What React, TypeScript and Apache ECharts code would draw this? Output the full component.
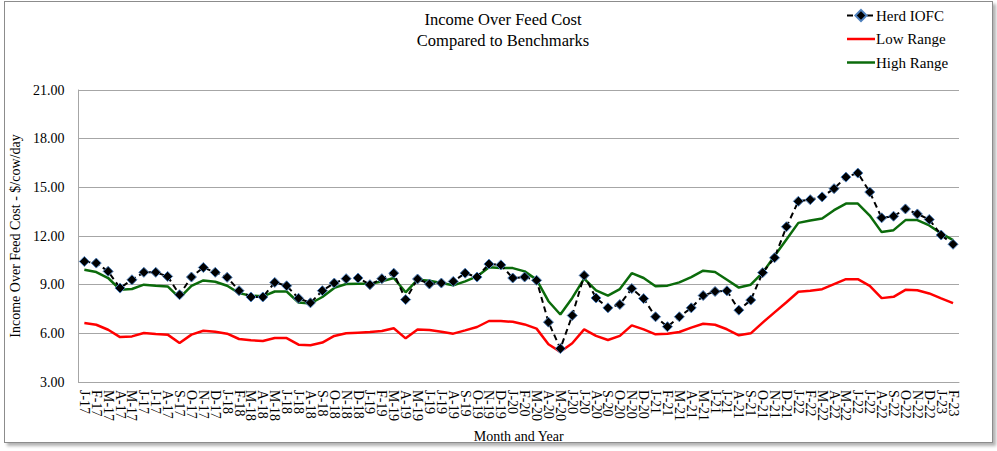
import { useEffect, useRef } from "react";
import * as echarts from "echarts";

const monthInitials = ["J", "F", "M", "A", "M", "J", "J", "A", "S", "O", "N", "D"];
const years = ["17", "18", "19", "20", "21", "22", "23"];
const monthCount = 74;

const categories: string[] = [];
for (let i = 0; i < monthCount; i++) {
  categories.push(monthInitials[i % 12] + "-" + years[Math.floor(i / 12)]);
}

const herdIOFC = [
  10.43, 10.33, 9.82, 8.79, 9.3, 9.76, 9.76, 9.51, 8.38, 9.47, 10.06, 9.76,
  9.45, 8.63, 8.24, 8.24, 9.14, 8.93, 8.16, 7.88, 8.63, 9.1, 9.37, 9.41,
  9.0, 9.37, 9.71, 8.08, 9.35, 9.04, 9.1, 9.2, 9.71, 9.47, 10.27, 10.22,
  9.41, 9.47, 9.27, 6.69, 5.06, 7.1, 9.57, 8.18, 7.57, 7.78, 8.76, 8.14,
  7.02, 6.41, 7.02, 7.57, 8.33, 8.58, 8.62, 7.43, 8.05, 9.74, 10.66, 12.57,
  14.14, 14.24, 14.41, 14.92, 15.63, 15.88, 14.71, 13.12, 13.22, 13.67, 13.36, 13.02,
  12.06, 11.49,
];

const lowRange = [
  6.63, 6.53, 6.22, 5.77, 5.81, 6.02, 5.96, 5.92, 5.4, 5.92, 6.16, 6.1,
  5.98, 5.65, 5.57, 5.53, 5.71, 5.71, 5.3, 5.27, 5.43, 5.84, 6.0, 6.04,
  6.08, 6.14, 6.31, 5.69, 6.24, 6.2, 6.1, 5.98, 6.18, 6.39, 6.76, 6.76,
  6.71, 6.55, 6.29, 5.33, 4.86, 5.39, 6.24, 5.84, 5.59, 5.84, 6.49, 6.24,
  5.94, 5.98, 6.08, 6.35, 6.59, 6.53, 6.25, 5.88, 6.0, 6.66, 7.29, 7.92,
  8.56, 8.62, 8.72, 9.03, 9.34, 9.34, 8.93, 8.17, 8.25, 8.68, 8.66, 8.46,
  8.15, 7.86,
];

const highRange = [
  9.92, 9.78, 9.41, 8.69, 8.73, 9.0, 8.93, 8.89, 8.18, 8.93, 9.26, 9.18,
  8.93, 8.48, 8.32, 8.28, 8.58, 8.58, 7.9, 7.84, 8.24, 8.8, 9.04, 9.06,
  9.06, 9.2, 9.41, 8.53, 9.31, 9.24, 9.1, 8.96, 9.2, 9.51, 10.08, 10.02,
  10.02, 9.82, 9.31, 7.98, 7.16, 8.18, 9.37, 8.65, 8.33, 8.73, 9.71, 9.41,
  8.9, 8.94, 9.14, 9.47, 9.86, 9.78, 9.3, 8.82, 9.0, 9.74, 10.77, 11.79,
  12.81, 12.96, 13.08, 13.59, 14.0, 14.0, 13.26, 12.24, 12.36, 12.98, 12.98, 12.65,
  12.16, 11.75,
];

const serif = "'Liberation Serif', 'Times New Roman', serif";
// plain line used as legend icon for the two range series
const lineIcon = "path://M0,0H28V2.5H0Z";

const App = () => {
  const chartRef = useRef<HTMLDivElement>(null);

  useEffect(() => {
    const chart = echarts.init(chartRef.current, undefined, { renderer: "svg" });
    chart.setOption({
      animation: false,
      textStyle: { fontFamily: serif, color: "#000" },
      title: {
        text: "Income Over Feed Cost\nCompared to Benchmarks",
        left: 498,
        textAlign: "center",
        top: 4,
        textStyle: {
          fontFamily: serif,
          fontSize: 16.5,
          fontWeight: "normal",
          color: "#000",
          lineHeight: 21,
        },
      },
      legend: {
        orient: "vertical",
        left: 841,
        top: 3,
        itemWidth: 28,
        itemHeight: 14,
        itemGap: 8.5,
        data: [
          { name: "Herd IOFC" },
          { name: "Low Range", icon: lineIcon },
          { name: "High Range", icon: lineIcon },
        ],
        textStyle: { fontFamily: serif, fontSize: 15, color: "#000", padding: [0, 0, 0, -4] },
      },
      grid: { left: 69, right: 38, top: 90, bottom: 69 },
      xAxis: {
        type: "category",
        data: categories,
        boundaryGap: true,
        name: "Month and Year",
        nameLocation: "middle",
        nameGap: 43,
        nameTextStyle: { fontFamily: serif, fontSize: 14, color: "#000" },
        axisLine: { lineStyle: { color: "#a6a6a6" } },
        axisTick: { show: false },
        axisLabel: {
          interval: 0,
          rotate: -90,
          margin: 8,
          fontFamily: serif,
          fontSize: 14,
          color: "#000",
        },
      },
      yAxis: {
        type: "value",
        min: 3,
        max: 21,
        interval: 3,
        name: "Income Over Feed Cost - $/cow/day",
        nameLocation: "middle",
        nameGap: 51,
        nameTextStyle: { fontFamily: serif, fontSize: 14, color: "#000" },
        axisLine: { show: true, lineStyle: { color: "#a6a6a6" } },
        axisTick: { show: false },
        axisLabel: {
          margin: 14,
          fontFamily: serif,
          fontSize: 14,
          color: "#000",
          formatter: (v: number) => v.toFixed(2),
        },
        splitLine: { lineStyle: { color: "#a6a6a6", width: 1 } },
      },
      series: [
        {
          name: "Low Range",
          type: "line",
          data: lowRange,
          symbol: "none",
          z: 2,
          lineStyle: { color: "#ff0000", width: 2.5 },
          itemStyle: { color: "#ff0000" },
        },
        {
          name: "High Range",
          type: "line",
          data: highRange,
          symbol: "none",
          z: 2,
          lineStyle: { color: "#0b6b0b", width: 2.5 },
          itemStyle: { color: "#0b6b0b" },
        },
        {
          name: "Herd IOFC",
          type: "line",
          data: herdIOFC,
          symbol: "diamond",
          symbolSize: 10,
          z: 4,
          lineStyle: { color: "#000", width: 2, type: [6, 4] },
          itemStyle: { color: "#000", borderColor: "#4f81bd", borderWidth: 1 },
        },
      ],
    });

    return () => {
      chart.dispose();
    };
  }, []);

  return (
    <div
      style={{
        position: "fixed",
        left: 0,
        top: 0,
        width: 997,
        height: 451,
        background: "#fff",
      }}
    >
      <div
        style={{
          position: "absolute",
          left: 4,
          top: 1,
          width: 987,
          height: 440,
          border: "1px solid #8c8c8c",
          boxShadow: "3px 3px 3px rgba(0,0,0,0.3)",
          background: "#fff",
        }}
      />
      <div
        ref={chartRef}
        style={{ position: "absolute", left: 0, top: 0, width: 997, height: 451 }}
      />
    </div>
  );
};

export default App;
